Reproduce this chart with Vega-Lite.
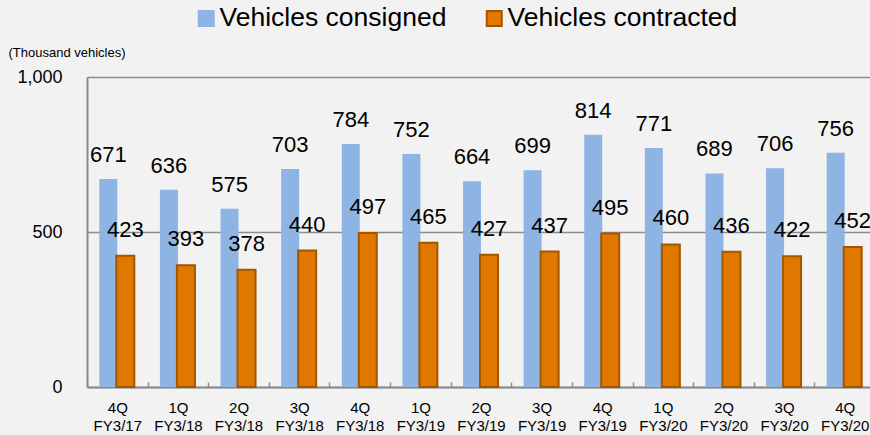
{
  "$schema": "https://vega.github.io/schema/vega-lite/v6.json",
  "autosize": {"type": "none"},
  "padding": {"left": 87, "top": 77, "right": 0, "bottom": 48},
  "width": 788,
  "height": 310,
  "background": "#f2f2f2",
  "config": {
    "view": {"stroke": null},
    "font": "Liberation Sans",
    "axis": {"labelFont": "Liberation Sans", "titleFont": "Liberation Sans", "labelColor": "#000", "titleColor": "#000"},
    "legend": {"labelFont": "Liberation Sans"}
  },
  "data": {
    "values": [
      {"period": "4Q FY3/17", "series": "Vehicles consigned", "value": 671},
      {"period": "1Q FY3/18", "series": "Vehicles consigned", "value": 636},
      {"period": "2Q FY3/18", "series": "Vehicles consigned", "value": 575},
      {"period": "3Q FY3/18", "series": "Vehicles consigned", "value": 703},
      {"period": "4Q FY3/18", "series": "Vehicles consigned", "value": 784},
      {"period": "1Q FY3/19", "series": "Vehicles consigned", "value": 752},
      {"period": "2Q FY3/19", "series": "Vehicles consigned", "value": 664},
      {"period": "3Q FY3/19", "series": "Vehicles consigned", "value": 699},
      {"period": "4Q FY3/19", "series": "Vehicles consigned", "value": 814},
      {"period": "1Q FY3/20", "series": "Vehicles consigned", "value": 771},
      {"period": "2Q FY3/20", "series": "Vehicles consigned", "value": 689},
      {"period": "3Q FY3/20", "series": "Vehicles consigned", "value": 706},
      {"period": "4Q FY3/20", "series": "Vehicles consigned", "value": 756},
      {"period": "4Q FY3/17", "series": "Vehicles contracted", "value": 423},
      {"period": "1Q FY3/18", "series": "Vehicles contracted", "value": 393},
      {"period": "2Q FY3/18", "series": "Vehicles contracted", "value": 378},
      {"period": "3Q FY3/18", "series": "Vehicles contracted", "value": 440},
      {"period": "4Q FY3/18", "series": "Vehicles contracted", "value": 497},
      {"period": "1Q FY3/19", "series": "Vehicles contracted", "value": 465},
      {"period": "2Q FY3/19", "series": "Vehicles contracted", "value": 427},
      {"period": "3Q FY3/19", "series": "Vehicles contracted", "value": 437},
      {"period": "4Q FY3/19", "series": "Vehicles contracted", "value": 495},
      {"period": "1Q FY3/20", "series": "Vehicles contracted", "value": 460},
      {"period": "2Q FY3/20", "series": "Vehicles contracted", "value": 436},
      {"period": "3Q FY3/20", "series": "Vehicles contracted", "value": 422},
      {"period": "4Q FY3/20", "series": "Vehicles contracted", "value": 452}
    ]
  },
  "encoding": {
    "x": {
      "field": "period", "type": "nominal", "sort": null,
      "scale": {"paddingInner": 0, "paddingOuter": 0},
      "axis": {
        "title": null, "labelAngle": 0, "labelExpr": "datum.value ? split(datum.value, ' ') : ''",
        "labelFontSize": 15, "labelLineHeight": 18, "labelPadding": 18,
        "tickBand": "extent", "tickSize": -5, "tickColor": "#8c8c8c", "tickWidth": 1.5,
        "domainColor": "#8c8c8c", "domainWidth": 2, "grid": false, "labelBaseline": "top"
      }
    },
    "y": {
      "field": "value", "type": "quantitative",
      "scale": {"domain": [0, 1000], "nice": false},
      "axis": {
        "values": [0, 500, 1000], "format": ",.0f", "ticks": false, "labelPadding": 25,
        "labelFontSize": 18, "grid": true, "gridColor": "#8c8c8c", "gridWidth": 1.5,
        "domainColor": "#8c8c8c", "domainWidth": 2,
        "title": "(Thousand vehicles)", "titleAngle": 0, "titleX": -79, "titleY": -25,
        "titleAlign": "left", "titleBaseline": "middle", "titleFontSize": 13, "titleFontWeight": "normal"
      }
    }
  },
  "layer": [
    {
      "transform": [{"filter": "datum.series == 'Vehicles consigned'"}],
      "mark": {"type": "bar", "size": 18, "xOffset": -9, "strokeWidth": 0},
      "encoding": {
        "color": {
          "field": "series", "type": "nominal", "title": null,
          "scale": {"domain": ["Vehicles consigned", "Vehicles contracted"], "range": ["#8DB4E2", "#E07800"]},
          "legend": {
            "orient": "none", "legendX": 106, "legendY": -72, "direction": "horizontal",
            "symbolType": "square", "symbolSize": 225, "symbolStrokeWidth": 2,
            "labelFontSize": 26.5, "labelOffset": 0, "columnPadding": 34, "labelColor": "#000", "labelLimit": 400
          }
        },
        "stroke": {
          "field": "series", "type": "nominal", "title": null,
          "scale": {"domain": ["Vehicles consigned", "Vehicles contracted"], "range": ["#8DB4E2", "#A35600"]}
        }
      }
    },
    {
      "transform": [{"filter": "datum.series == 'Vehicles contracted'"}],
      "mark": {"type": "bar", "size": 18, "xOffset": 8, "strokeWidth": 2},
      "encoding": {
        "color": {"field": "series", "type": "nominal", "title": null},
        "stroke": {"field": "series", "type": "nominal", "title": null}
      }
    },
    {
      "transform": [{"filter": "datum.series == 'Vehicles consigned'"}],
      "mark": {"type": "text", "fontSize": 22, "xOffset": -9, "dy": -24, "baseline": "middle", "color": "#000"},
      "encoding": {"text": {"field": "value", "type": "quantitative"}}
    },
    {
      "transform": [{"filter": "datum.series == 'Vehicles contracted'"}],
      "mark": {"type": "text", "fontSize": 22, "xOffset": 8, "dy": -26, "baseline": "middle", "color": "#000"},
      "encoding": {"text": {"field": "value", "type": "quantitative"}}
    }
  ],
  "resolve": {"scale": {"color": "shared", "stroke": "shared"}}
}
